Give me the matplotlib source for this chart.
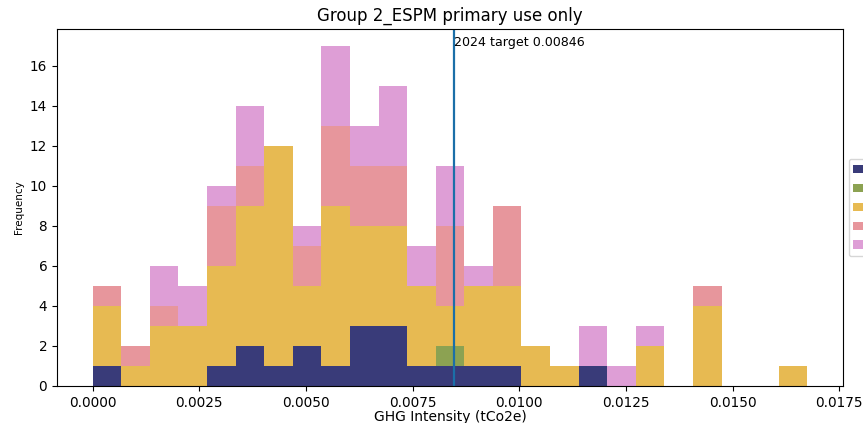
import numpy as np
import matplotlib
matplotlib.use("Agg")
import matplotlib.pyplot as plt

# Histogram bins of GHG intensity (tCO2e)
bin_min = 0.0
bin_max = 0.01675
n_bins = 25

# Primary-use categories, stacked bottom to top
categories = ["Office", "Hotel", "Multifamily Housing", "Retail Store", "Other"]

# Building counts per bin for each category
office = [1, 0, 0, 0, 1, 2, 1, 2, 1, 3, 3, 1, 1, 1, 1, 0, 0, 1, 0, 0, 0, 0, 0, 0, 0]
hotel = [0, 0, 0, 0, 0, 0, 0, 0, 0, 0, 0, 0, 1, 0, 0, 0, 0, 0, 0, 0, 0, 0, 0, 0, 0]
multifamily = [3, 1, 3, 3, 5, 7, 11, 3, 8, 5, 5, 4, 2, 4, 4, 2, 1, 0, 0, 2, 0, 4, 0, 0, 1]
retail = [1, 1, 1, 0, 3, 2, 0, 2, 4, 3, 3, 0, 4, 0, 4, 0, 0, 0, 0, 0, 0, 1, 0, 0, 0]
other = [0, 0, 2, 2, 1, 3, 0, 1, 4, 2, 4, 2, 3, 1, 0, 0, 0, 2, 1, 1, 0, 0, 0, 0, 0]

target = 0.00846
target_label = "2024 target 0.00846"

edges = np.linspace(bin_min, bin_max, n_bins + 1)
centers = (edges[:-1] + edges[1:]) / 2
series = [office, hotel, multifamily, retail, other]
colors = plt.get_cmap("tab20b")(np.linspace(0, 1, len(series)))

fig = plt.figure(figsize=(8.63, 4.23), dpi=100)
ax = fig.add_axes([0.066, 0.0875, 0.9108, 0.844])

ax.hist([centers] * len(series), bins=edges, weights=series, stacked=True,
        color=colors, label=categories)

ax.axvline(target, color="#1b6fa8", lw=1.6)
ax.text(target, 17.0, target_label, ha="left", va="baseline", fontsize=9.1)

ax.set_title("Group 2_ESPM primary use only", fontsize=12)
ax.set_xlabel("GHG Intensity (tCo2e)", fontsize=10, labelpad=0)
ax.set_ylabel("Frequency", fontsize=7.5)
ax.set_xticks(np.arange(0, 0.0176, 0.0025))
ax.tick_params(labelsize=9.8)

ax.legend(loc="center left", bbox_to_anchor=(1.0, 0.5), fontsize=8.3)

fig.savefig("out.png", dpi=100)
